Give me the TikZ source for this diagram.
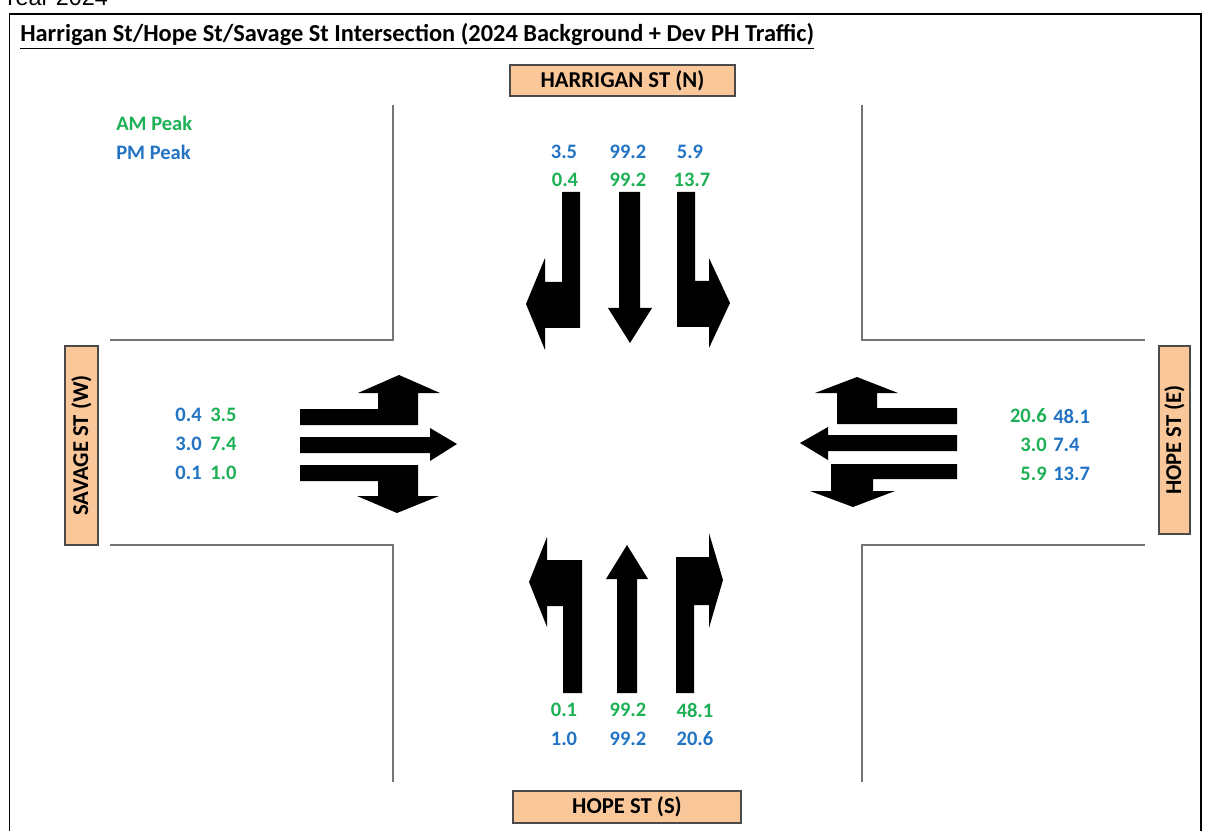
\documentclass[tikz,border=0pt]{standalone}
\usepackage{fontspec}
\setmainfont{Carlito}
\newfontfamily\arialf{Liberation Sans}
\definecolor{amgreen}{HTML}{1DB055}
\definecolor{pmblue}{HTML}{2273C4}
\definecolor{boxfill}{HTML}{F9C79A}
\definecolor{boxborder}{HTML}{4A4A4A}
\definecolor{roadgray}{HTML}{747474}
\begin{document}
\begin{tikzpicture}[x=0.75pt,y=-0.75pt,
  road/.style={draw=roadgray, line width=1.7pt},
  arrowshape/.style={fill=black},
  streetbox/.style={draw=boxborder, fill=boxfill, line width=1.1pt, inner sep=0pt,
    font=\bfseries\fontsize{17}{20}\selectfont},
  numtxt/.style={inner sep=0pt, font=\bfseries\fontsize{15.4}{18}\selectfont},
  am/.style={numtxt, text=amgreen},
  pm/.style={numtxt, text=pmblue}]
\useasboundingbox (0,0) rectangle (1208,831);

% caption above frame (cut off at the top, as in the reference)
\node[anchor=base west, inner sep=0pt, font=\arialf\fontsize{17.5}{20}\selectfont] (year) at (2,6) {Year 2024};

% frame
\draw[line width=1.2pt] (9.5,840) -- (9.5,14) -- (1201,14) -- (1201,840);

% title
\node[anchor=base west, inner sep=0pt, font=\bfseries\fontsize{18.3}{22}\selectfont] (title) at (20,42)
  {\underline{Harrigan St/Hope St/Savage St Intersection (2024 Background + Dev PH Traffic)}};

% legend
\node[am, anchor=west] (amleg) at (116,123) {AM Peak};
\node[pm, anchor=west] (pmleg) at (116,152) {PM Peak};

% road edges
\draw[road] (393,105) -- (393,340) -- (110,340);
\draw[road] (862,105) -- (862,340) -- (1145,340);
\draw[road] (110,545) -- (393,545) -- (393,782);
\draw[road] (1145,545) -- (862,545) -- (862,782);

% street name boxes
\node[streetbox, minimum width=168.75pt, minimum height=23.25pt] (north) at (622.5,80.5) {HARRIGAN ST (N)};
\node[streetbox, minimum width=171pt, minimum height=24pt] (south) at (627,807) {HOPE ST (S)};
\node[streetbox, rotate=90, minimum width=149.25pt, minimum height=24.75pt] (west) at (81.5,445.5) {SAVAGE ST (W)};
\node[streetbox, rotate=90, minimum width=141pt, minimum height=23.25pt] (east) at (1174.5,440) {HOPE ST (E)};

% north approach arrows
\fill[arrowshape] (562,192) -- (580,192) -- (580,328) -- (545,328) -- (545,350) -- (526,304)
  -- (545,258) -- (545,282) -- (562,282) -- cycle;
\fill[arrowshape] (619,192) -- (640,192) -- (640,308) -- (652,308) -- (630,343) -- (608,308)
  -- (619,308) -- cycle;
\fill[arrowshape] (677,192) -- (695,192) -- (695,281) -- (709,281) -- (709,258) -- (730,303)
  -- (709,348) -- (709,327) -- (677,327) -- cycle;

% south approach arrows
\fill[arrowshape] (563,693) -- (582,693) -- (582,560) -- (547,560) -- (547,537) -- (529,582)
  -- (547,627) -- (547,606) -- (563,606) -- cycle;
\fill[arrowshape] (617,693) -- (637,693) -- (637,579) -- (648,579) -- (627,545) -- (606,579)
  -- (617,579) -- cycle;
\fill[arrowshape] (676,693) -- (694,693) -- (694,605) -- (709,605) -- (709,628) -- (723,580)
  -- (709,533) -- (709,557) -- (676,557) -- cycle;

% west approach arrows
\fill[arrowshape] (300,409) -- (378,409) -- (378,393) -- (358,393) -- (399,375) -- (440,393)
  -- (418,393) -- (418,425) -- (300,425) -- cycle;
\fill[arrowshape] (300,437) -- (430,437) -- (430,428) -- (457,444) -- (430,461) -- (430,453)
  -- (300,453) -- cycle;
\fill[arrowshape] (300,465) -- (418,465) -- (418,496) -- (439,496) -- (397,513) -- (357,496)
  -- (378,496) -- (378,481) -- (300,481) -- cycle;

% east approach arrows
\fill[arrowshape] (957,408) -- (877,408) -- (877,393) -- (898,393) -- (857,377) -- (815,393)
  -- (837,393) -- (837,424) -- (957,424) -- cycle;
\fill[arrowshape] (957,435) -- (828,435) -- (828,427) -- (800,443) -- (828,460) -- (828,451)
  -- (957,451) -- cycle;
\fill[arrowshape] (957,464) -- (831,464) -- (831,491) -- (810,491) -- (853,507) -- (895,491)
  -- (873,491) -- (873,479) -- (957,479) -- cycle;

% north volumes
\node[pm] (npm1) at (564,152) {3.5};
\node[pm] (npm2) at (628,152) {99.2};
\node[pm] (npm3) at (690,152) {5.9};
\node[am] (nam1) at (565,180) {0.4};
\node[am] (nam2) at (628,180) {99.2};
\node[am] (nam3) at (692,180) {13.7};

% south volumes
\node[am] (sam1) at (564,710) {0.1};
\node[am] (sam2) at (628,710) {99.2};
\node[am] (sam3) at (695,710) {48.1};
\node[pm] (spm1) at (564,739) {1.0};
\node[pm] (spm2) at (628,739) {99.2};
\node[pm] (spm3) at (695,739) {20.6};

% west volumes
\node[pm, anchor=east] (wpm1) at (202,415) {0.4};
\node[am, anchor=west] (wam1) at (210,415) {3.5};
\node[pm, anchor=east] (wpm2) at (202,444) {3.0};
\node[am, anchor=west] (wam2) at (210,444) {7.4};
\node[pm, anchor=east] (wpm3) at (202,473) {0.1};
\node[am, anchor=west] (wam3) at (210,473) {1.0};

% east volumes
\node[am, anchor=east] (eam1) at (1047,416) {20.6};
\node[pm, anchor=west] (epm1) at (1053,416) {48.1};
\node[am, anchor=east] (eam2) at (1047,445) {3.0};
\node[pm, anchor=west] (epm2) at (1053,445) {7.4};
\node[am, anchor=east] (eam3) at (1047,474) {5.9};
\node[pm, anchor=west] (epm3) at (1053,474) {13.7};
\end{tikzpicture}
\end{document}
